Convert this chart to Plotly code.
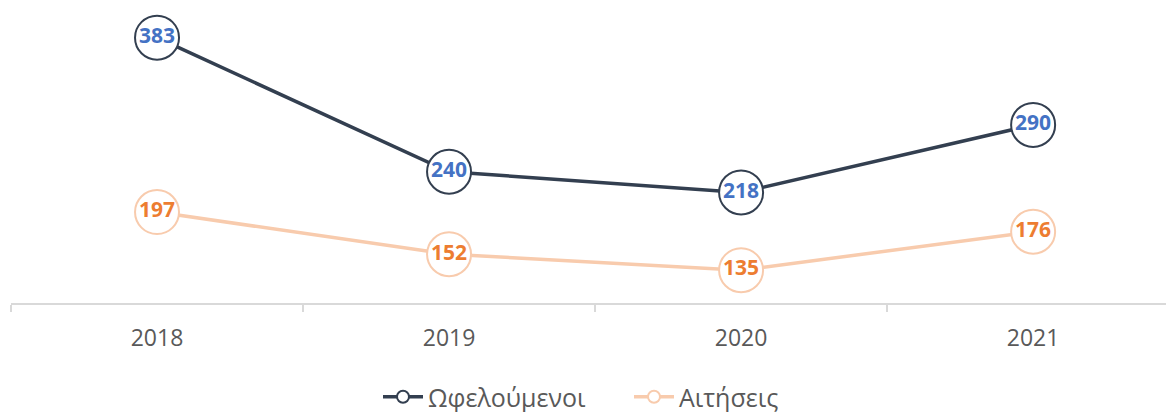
import plotly.graph_objects as go

years = ["2018", "2019", "2020", "2021"]
beneficiaries = [383, 240, 218, 290]
applications = [197, 152, 135, 176]
name_benef = "Ωφελούμενοι"
name_apps = "Αιτήσεις"

dark = "#333F50"
light = "#F8CBAD"
blue = "#4472C4"
orange = "#ED7D31"
font_family = "Open Sans, Liberation Sans, sans-serif"

fig = go.Figure()

def add_series(values, name, line_color, text_color):
    fig.add_trace(go.Scatter(
        x=years, y=values, mode="lines+markers+text",
        text=[str(v) for v in values], textposition="middle center",
        textfont=dict(color=text_color, size=21, family=font_family, weight="bold"),
        line=dict(color=line_color, width=3.5),
        marker=dict(size=44, color="white", line=dict(color=line_color, width=2)),
        showlegend=False, cliponaxis=False, hoverinfo="skip"))
    fig.add_trace(go.Scatter(
        x=[None], y=[None], mode="lines+markers", name=name,
        line=dict(color=line_color, width=3.5),
        marker=dict(size=12, color="white", line=dict(color=line_color, width=2))))

add_series(applications, name_apps, light, orange)
add_series(beneficiaries, name_benef, dark, blue)

fig.update_layout(
    width=1166, height=412,
    margin=dict(l=11, r=0, t=3, b=109, autoexpand=False),
    paper_bgcolor="white", plot_bgcolor="white",
    font=dict(family=font_family, color="#595959", size=23),
    legend=dict(orientation="h", xref="container", yref="container",
                xanchor="left", x=378 / 1166, yanchor="middle", y=1 - 397 / 412,
                entrywidth=196, entrywidthmode="pixels",
                traceorder="reversed", font=dict(size=25, color="#595959"),
                itemwidth=40),
    xaxis=dict(type="category", range=[-0.5, 3.455], tickson="boundaries",
               showline=True, linecolor="#D9D9D9", linewidth=2,
               ticks="outside", ticklen=7, tickcolor="#D9D9D9", tickwidth=1.5,
               ticklabelstandoff=13, automargin=False,
               showgrid=False, zeroline=False, tickfont=dict(size=23, color="#595959")),
    yaxis=dict(range=[100, 420], visible=False, showgrid=False, zeroline=False, automargin=False),
)

fig.write_html("out.html", config={"displayModeBar": False},
               post_script="document.body.style.margin='0';document.body.style.overflow='hidden';")
